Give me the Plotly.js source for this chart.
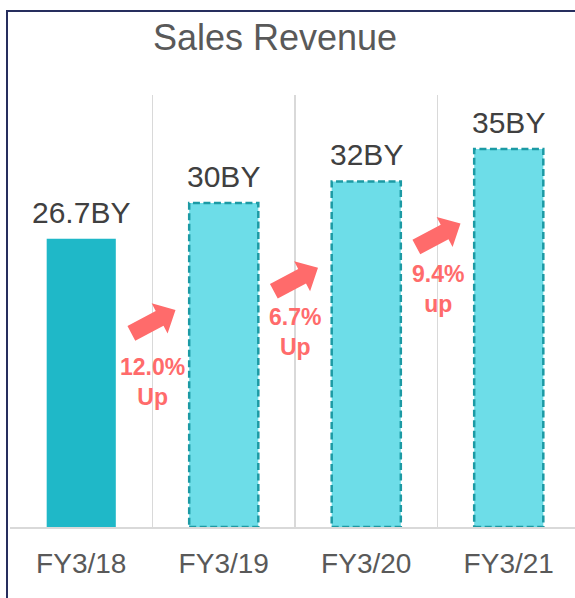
<!DOCTYPE html>
<html><head><meta charset="utf-8">
<script src="https://cdn.plot.ly/plotly-3.0.1.min.js"></script>
<style>
html,body{margin:0;padding:0;overflow:hidden;background:#fff;width:575px;height:598px;}
#chart{position:absolute;left:0;top:0;width:600px;height:620px;}
#frame{position:absolute;left:6px;top:10px;width:700px;height:700px;border-left:2px solid #262E5E;border-top:2px solid #262E5E;pointer-events:none;}
</style></head><body>
<div id="chart"></div><div id="frame"></div>
<script>
// ---- data ----
const categories = ['FY3/18', 'FY3/19', 'FY3/20', 'FY3/21'];
const revenue = [26.7, 30, 32, 35];
const valueLabels = ['26.7BY', '30BY', '32BY', '35BY'];
const isForecast = [false, true, true, true];
const growthLabels = ['12.0%<br>Up', '6.7%<br>Up', '9.4%<br>up'];

// ---- layout / style settings ----
const FONT = "'Liberation Sans', Arial, sans-serif";
const growthTextY = [13.4, 18.05, 22.0];
const arrowTipY = [20.1, 24.0, 28.1];
const BAR_W = 0.485;

function arrowPath() {
  const th = 28 * Math.PI / 180, c = Math.cos(th), s = Math.sin(th);
  const tipDx = 23;
  const pts = [[0, 0], [-18, 17], [-18, 8.3], [-50, 8.3], [-50, -8.3], [-18, -8.3], [-18, -17]];
  return pts.map((p, i) => {
    const x = p[0] * c - p[1] * s + tipDx;
    const y = p[0] * s + p[1] * c;
    return (i === 0 ? 'M ' : 'L ') + x.toFixed(2) + ' ' + y.toFixed(2);
  }).join(' ') + ' Z';
}

const trace = {
  type: 'bar',
  x: categories,
  y: revenue,
  width: BAR_W,
  marker: {color: isForecast.map(f => f ? '#6DDDE8' : '#1FB8C8'), line: {width: 0}},
  hoverinfo: 'none'
};

const shapes = [];
revenue.forEach((v, i) => {
  if (isForecast[i]) {
    shapes.push({
      type: 'rect', xref: 'x', yref: 'y',
      x0: i - BAR_W / 2, x1: i + BAR_W / 2, y0: 0, y1: v,
      line: {color: '#1C9AA4', width: 2.5, dash: '7px,3.5px'},
      fillcolor: 'rgba(0,0,0,0)'
    });
  }
});
growthLabels.forEach((t, i) => {
  shapes.push({
    type: 'path', xref: 'x', yref: 'y',
    xsizemode: 'pixel', ysizemode: 'pixel',
    xanchor: i + 0.5, yanchor: arrowTipY[i],
    path: arrowPath(),
    fillcolor: '#FF6B6B', line: {width: 0}
  });
});

const annotations = [];
revenue.forEach((v, i) => {
  annotations.push({
    x: i, y: v, xref: 'x', yref: 'y', text: valueLabels[i],
    showarrow: false, yanchor: 'bottom', yshift: 8,
    font: {family: FONT, size: 30, color: '#404040'}
  });
});
growthLabels.forEach((t, i) => {
  annotations.push({
    x: i + 0.5, y: growthTextY[i], xref: 'x', yref: 'y', text: '<b>' + t.replace('<br>', '</b><br><b>') + '</b>',
    showarrow: false, yanchor: 'middle', xanchor: 'center',
    font: {family: FONT, size: 23, color: '#FF6B6B'}
  });
});

const layout = {
  width: 600, height: 620,
  margin: {l: 10, r: 20, t: 95, b: 93, pad: 0},
  paper_bgcolor: '#ffffff', plot_bgcolor: '#ffffff',
  showlegend: false,
  title: {
    text: 'Sales Revenue',
    font: {family: FONT, size: 36, color: '#595959'},
    x: 275 / 600, xref: 'container', xanchor: 'center',
    y: 1 - 37.5 / 620, yref: 'container', yanchor: 'middle'
  },
  xaxis: {
    type: 'category', range: [-0.5, 3.5],
    tickson: 'boundaries', showgrid: true, gridcolor: '#D9D9D9', gridwidth: 1.5,
    ticks: '', showline: true, linecolor: '#D9D9D9', linewidth: 2,
    tickfont: {family: FONT, size: 28, color: '#595959'},
    ticklabelstandoff: 10, fixedrange: true
  },
  yaxis: {
    range: [0, 40], showgrid: false, zeroline: false, showticklabels: false,
    ticks: '', showline: false, fixedrange: true
  },
  shapes: shapes,
  annotations: annotations,
  bargap: 0.5
};

Plotly.newPlot('chart', [trace], layout, {displayModeBar: false, staticPlot: true});
</script>
</body></html>
